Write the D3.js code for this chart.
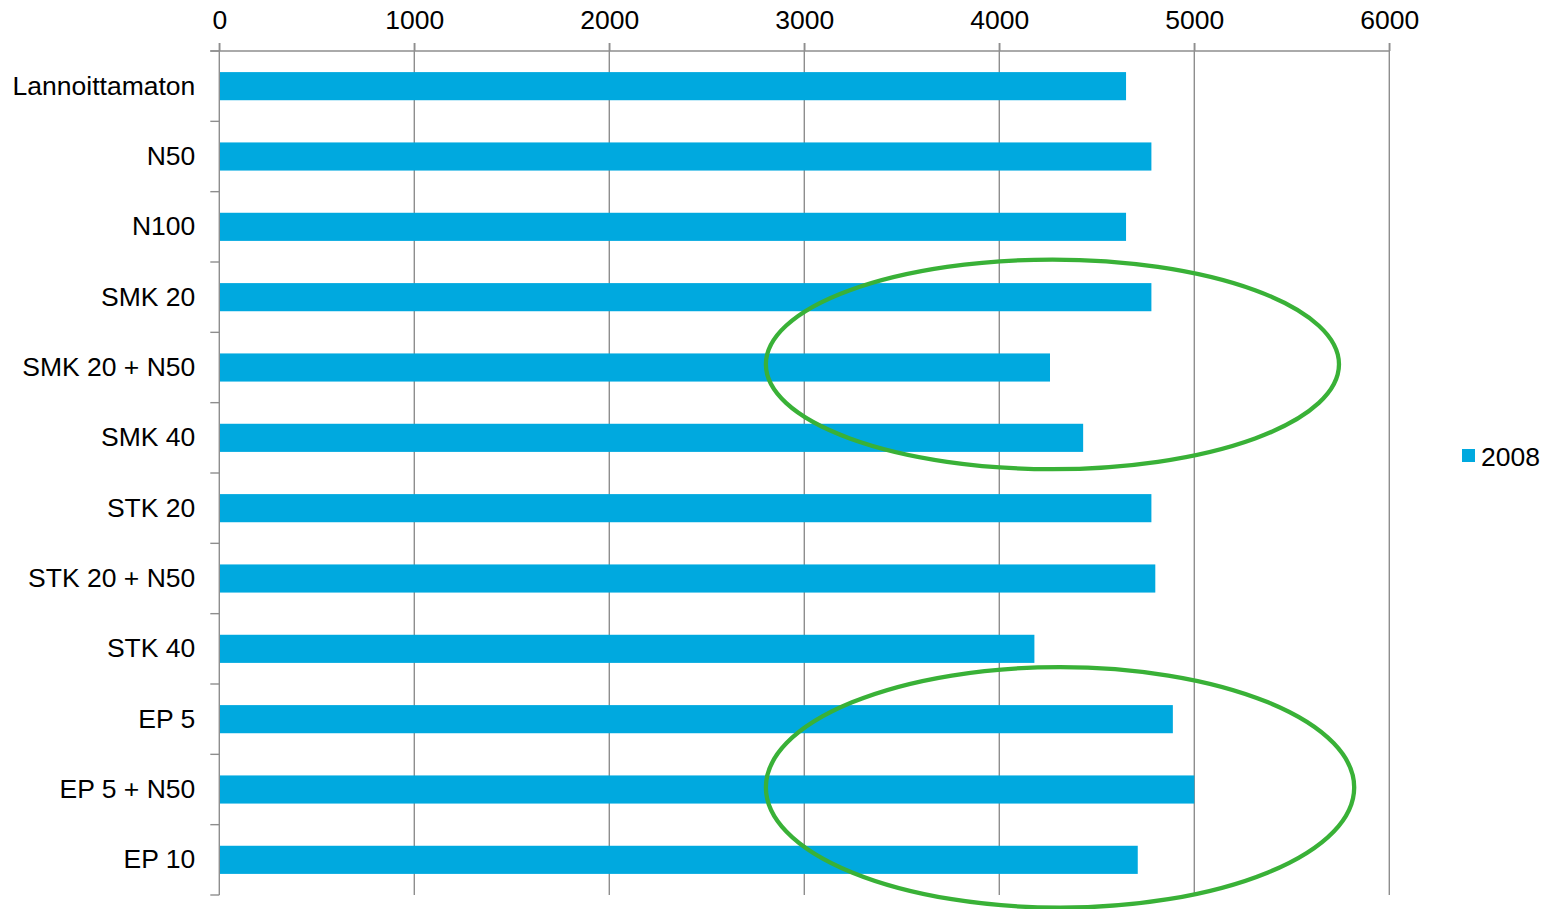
<!DOCTYPE html>
<html>
<head>
<meta charset="utf-8">
<script src="https://cdn.jsdelivr.net/npm/d3@7"></script>
<style>
  html, body { margin: 0; padding: 0; background: #fff; }
  svg { display: block; font-family: "Liberation Sans", Arial, sans-serif; }
</style>
</head>
<body>
<svg id="chart" width="1549" height="909"></svg>
<script>
// Treatments (categories), yield values for 2008, and axis ticks
const categories = [
  "Lannoittamaton", "N50", "N100", "SMK 20", "SMK 20 + N50", "SMK 40",
  "STK 20", "STK 20 + N50", "STK 40", "EP 5", "EP 5 + N50", "EP 10"
];
const values2008 = [4650, 4780, 4650, 4780, 4260, 4430, 4780, 4800, 4180, 4890, 5000, 4710];
const xTicks = [0, 1000, 2000, 3000, 4000, 5000, 6000];
const seriesName = "2008";

// Highlight ellipses: horizontal extent in value units, vertical centre on a category
const highlightFrom = [2803, 2803];
const highlightTo = [5742, 5820];
const highlightCategory = ["SMK 20 + N50", "EP 5 + N50"];
const highlightShift = [-0.045, -0.03];  // in category steps
const highlightHalfHeight = [1.49, 1.71]; // in category steps

(function () {
  const svg = d3.select("#chart");
  const plotLeft = 219.3, plotRight = 1389.3, plotTop = 51, plotBottom = 895;
  const gridColor = "#8e8e8e";
  const barColor = "#00a9df";
  const fontSize = 26.5;
  const font = "Liberation Sans, Arial, sans-serif";

  const x = d3.scaleLinear().domain([0, 6000]).range([plotLeft, plotRight]);
  const y = d3.scaleBand().domain(categories).range([plotTop, plotBottom])
    .paddingInner(0.6).paddingOuter(0.3);
  const step = y.step();

  // vertical gridlines
  svg.append("g").selectAll("line").data(xTicks.slice(1)).join("line")
    .attr("x1", d => x(d)).attr("x2", d => x(d))
    .attr("y1", plotTop - 8).attr("y2", plotBottom)
    .attr("stroke", gridColor).attr("stroke-width", 1.4);

  // top axis
  const xAxis = svg.append("g").attr("transform", `translate(0,${plotTop})`)
    .call(d3.axisTop(x).tickValues(xTicks).tickSize(8).tickSizeOuter(0).tickPadding(14)
      .tickFormat(d3.format("d")));
  xAxis.select(".domain").remove();
  xAxis.selectAll(".tick line").attr("stroke", gridColor).attr("stroke-width", 1.4);
  xAxis.selectAll(".tick text").attr("font-size", fontSize).attr("fill", "#000")
    .attr("font-family", font);
  svg.append("line")
    .attr("x1", plotLeft - 9).attr("x2", plotRight).attr("y1", plotTop).attr("y2", plotTop)
    .attr("stroke", gridColor).attr("stroke-width", 1.4);

  // bars
  svg.append("g").selectAll("rect").data(categories).join("rect")
    .attr("x", x(0))
    .attr("y", d => y(d))
    .attr("width", (d, i) => x(values2008[i]) - x(0))
    .attr("height", y.bandwidth())
    .attr("fill", barColor);

  // left axis with category labels
  const yAxis = svg.append("g").attr("transform", `translate(${plotLeft},0)`)
    .call(d3.axisLeft(y).tickSize(0).tickPadding(24));
  yAxis.select(".domain").remove();
  yAxis.selectAll(".tick text").attr("font-size", fontSize).attr("fill", "#000")
    .attr("font-family", font);

  // category boundary ticks
  const boundaries = d3.range(categories.length + 1).map(i => plotTop + i * step);
  svg.append("g").selectAll("line").data(boundaries).join("line")
    .attr("x1", plotLeft - 9).attr("x2", plotLeft)
    .attr("y1", d => d).attr("y2", d => d)
    .attr("stroke", gridColor).attr("stroke-width", 1.4);
  svg.append("line")
    .attr("x1", plotLeft).attr("x2", plotLeft).attr("y1", plotTop - 8).attr("y2", plotBottom)
    .attr("stroke", gridColor).attr("stroke-width", 1.4);

  // highlight ellipses
  svg.append("g").selectAll("ellipse").data(highlightCategory).join("ellipse")
    .attr("cx", (d, i) => (x(highlightFrom[i]) + x(highlightTo[i])) / 2)
    .attr("cy", (d, i) => y(d) + y.bandwidth() / 2 + highlightShift[i] * step)
    .attr("rx", (d, i) => (x(highlightTo[i]) - x(highlightFrom[i])) / 2)
    .attr("ry", (d, i) => highlightHalfHeight[i] * step)
    .attr("fill", "none")
    .attr("stroke", "#39b137")
    .attr("stroke-width", 4.3);

  // legend
  const legend = svg.append("g").attr("transform", "translate(1462,449)");
  legend.append("rect").attr("width", 13).attr("height", 13).attr("fill", barColor);
  legend.append("text").attr("x", 19).attr("y", 16.5)
    .attr("font-size", fontSize).attr("font-family", font).attr("fill", "#000").text(seriesName);
})();
</script>
</body>
</html>
